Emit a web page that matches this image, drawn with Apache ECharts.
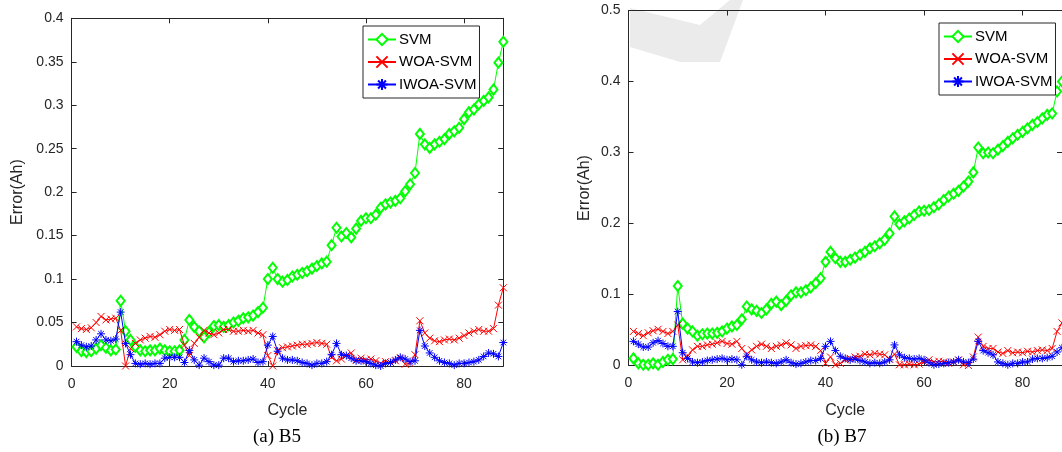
<!DOCTYPE html>
<html>
<head>
<meta charset="utf-8">
<script src="https://cdn.jsdelivr.net/npm/echarts@6/dist/echarts.min.js"></script>
<style>
  html, body { margin: 0; padding: 0; background: #fff; }
  #chart { width: 1062px; height: 452px; }
</style>
</head>
<body>
<div id="chart"></div>
<script>
// cycle index 1..88 shared by both panels
const cycles = Array.from({ length: 88 }, (_, i) => i + 1);
const seriesNames = ['SVM', 'WOA-SVM', 'IWOA-SVM'];

// (a) B5
const b5Svm = [
  0.022, 0.017, 0.016, 0.017, 0.020, 0.024, 0.021, 0.018, 0.019, 0.075,
  0.040, 0.030, 0.022, 0.018, 0.017, 0.018, 0.018, 0.020, 0.018, 0.017,
  0.017, 0.018, 0.030, 0.053, 0.045, 0.040, 0.033, 0.039, 0.046, 0.047,
  0.045, 0.047, 0.050, 0.052, 0.055, 0.056, 0.058, 0.062, 0.067, 0.100,
  0.113, 0.100, 0.097, 0.099, 0.103, 0.105, 0.107, 0.109, 0.112, 0.115,
  0.118, 0.120, 0.139, 0.159, 0.149, 0.153, 0.148, 0.158, 0.167, 0.170,
  0.170, 0.174, 0.182, 0.186, 0.188, 0.190, 0.193, 0.201, 0.209, 0.222,
  0.267, 0.255, 0.251, 0.255, 0.258, 0.261, 0.267, 0.270, 0.274, 0.284,
  0.292, 0.295, 0.301, 0.305, 0.309, 0.318, 0.349, 0.373,
];
const b5Woa = [
  0.045, 0.043, 0.042, 0.044, 0.050, 0.057, 0.053, 0.054, 0.055, 0.041,
  0.000, 0.020, 0.026, 0.030, 0.032, 0.034, 0.033, 0.036, 0.040, 0.042,
  0.041, 0.042, 0.024, 0.012, 0.026, 0.033, 0.041, 0.038, 0.036, 0.038,
  0.042, 0.042, 0.040, 0.040, 0.041, 0.040, 0.041, 0.038, 0.036, 0.012,
  0.000, 0.018, 0.021, 0.022, 0.023, 0.024, 0.025, 0.025, 0.026, 0.027,
  0.026, 0.025, 0.010, 0.006, 0.008, 0.012, 0.015, 0.007, 0.009, 0.007,
  0.008, 0.006, 0.003, 0.005, 0.004, 0.006, 0.009, 0.002, 0.003, 0.013,
  0.052, 0.038, 0.032, 0.029, 0.028, 0.030, 0.031, 0.030, 0.032, 0.035,
  0.038, 0.040, 0.042, 0.040, 0.040, 0.043, 0.070, 0.090,
];
const b5Iwoa = [
  0.028, 0.024, 0.022, 0.023, 0.030, 0.037, 0.030, 0.029, 0.031, 0.062,
  0.026, 0.013, 0.003, 0.002, 0.003, 0.002, 0.003, 0.003, 0.009, 0.010,
  0.010, 0.010, 0.004, 0.018, 0.007, 0.001, 0.009, 0.005, 0.001, 0.001,
  0.009, 0.009, 0.005, 0.006, 0.006, 0.007, 0.008, 0.004, 0.005, 0.024,
  0.034, 0.017, 0.009, 0.007, 0.007, 0.006, 0.004, 0.003, 0.001, 0.003,
  0.003, 0.005, 0.013, 0.026, 0.013, 0.012, 0.009, 0.006, 0.006, 0.005,
  0.003, 0.001, 0.000, 0.003, 0.004, 0.007, 0.010, 0.008, 0.005, 0.006,
  0.041, 0.023, 0.015, 0.010, 0.006, 0.004, 0.003, 0.001, 0.003, 0.003,
  0.004, 0.005, 0.007, 0.011, 0.015, 0.014, 0.011, 0.027,
];

// (b) B7
const b7Svm = [
  0.010, 0.003, 0.001, 0.001, 0.003, 0.001, 0.005, 0.008, 0.009, 0.112,
  0.059, 0.052, 0.048, 0.042, 0.044, 0.045, 0.045, 0.046, 0.048, 0.052,
  0.055, 0.057, 0.065, 0.083, 0.079, 0.077, 0.074, 0.079, 0.087, 0.090,
  0.085, 0.091, 0.099, 0.103, 0.103, 0.106, 0.110, 0.116, 0.123, 0.146,
  0.160, 0.151, 0.146, 0.146, 0.149, 0.152, 0.156, 0.160, 0.165, 0.168,
  0.172, 0.177, 0.186, 0.210, 0.199, 0.203, 0.207, 0.212, 0.217, 0.218,
  0.219, 0.223, 0.227, 0.233, 0.238, 0.242, 0.246, 0.252, 0.259, 0.272,
  0.307, 0.299, 0.300, 0.299, 0.304, 0.309, 0.315, 0.320, 0.325, 0.329,
  0.334, 0.339, 0.343, 0.348, 0.353, 0.355, 0.386, 0.400,
];
const b7Woa = [
  0.048, 0.045, 0.042, 0.046, 0.049, 0.051, 0.048, 0.045, 0.048, 0.057,
  0.008, 0.013, 0.022, 0.027, 0.027, 0.029, 0.030, 0.032, 0.034, 0.031,
  0.030, 0.034, 0.024, 0.016, 0.022, 0.027, 0.030, 0.027, 0.024, 0.027,
  0.029, 0.032, 0.029, 0.024, 0.027, 0.028, 0.029, 0.027, 0.021, 0.003,
  0.012, 0.001, 0.003, 0.008, 0.010, 0.012, 0.013, 0.016, 0.015, 0.017,
  0.016, 0.015, 0.009, 0.016, 0.001, 0.001, 0.002, 0.001, 0.002, 0.005,
  0.008, 0.005, 0.006, 0.005, 0.003, 0.005, 0.008, 0.001, 0.000, 0.012,
  0.040, 0.027, 0.024, 0.024, 0.019, 0.017, 0.021, 0.018, 0.019, 0.018,
  0.020, 0.019, 0.021, 0.022, 0.021, 0.024, 0.048, 0.060,
];
const b7Iwoa = [
  0.034, 0.030, 0.026, 0.026, 0.032, 0.035, 0.031, 0.027, 0.027, 0.076,
  0.018, 0.010, 0.005, 0.004, 0.005, 0.007, 0.008, 0.009, 0.010, 0.008,
  0.009, 0.008, 0.001, 0.013, 0.008, 0.005, 0.004, 0.005, 0.004, 0.003,
  0.005, 0.008, 0.004, 0.002, 0.003, 0.005, 0.007, 0.007, 0.010, 0.027,
  0.034, 0.021, 0.013, 0.010, 0.008, 0.009, 0.007, 0.005, 0.003, 0.004,
  0.003, 0.005, 0.008, 0.029, 0.015, 0.011, 0.010, 0.009, 0.010, 0.008,
  0.004, 0.001, 0.002, 0.003, 0.004, 0.005, 0.008, 0.005, 0.004, 0.009,
  0.034, 0.021, 0.018, 0.015, 0.005, 0.003, 0.001, 0.003, 0.003, 0.005,
  0.005, 0.009, 0.010, 0.010, 0.011, 0.013, 0.019, 0.025,
];

const AXIS_COLOR = '#262626';
const FONT = 'Liberation Sans';
const X_MARK = 'path://M0,0L10,10M10,0L0,10';
const STAR_MARK = 'path://M5,0L5,10M0,5L10,5M1.5,1.5L8.5,8.5M8.5,1.5L1.5,8.5';

const styles = [
  { color: '#00ff00', symbol: 'emptyDiamond', symbolSize: [8, 10] },
  { color: '#ff0000', symbol: X_MARK, symbolSize: 7 },
  { color: '#0000ff', symbol: STAR_MARK, symbolSize: 8 },
];

const panels = [
  {
    grid: { left: 71.6, top: 18.3, width: 431.7, height: 347.7 },
    yMax: 0.4, yStep: 0.05, yNameGap: 46,
    data: [b5Svm, b5Woa, b5Iwoa],
    legend: { left: 363, top: 26 },
    caption: '(a) B5', captionX: 277,
  },
  {
    grid: { left: 628.5, top: 10.5, width: 438.2, height: 355 },
    yMax: 0.5, yStep: 0.1, yNameGap: 36,
    data: [b7Svm, b7Woa, b7Iwoa],
    legend: { left: 939, top: 23 },
    caption: '(b) B7', captionX: 842,
  },
];

const labelStyle = { color: AXIS_COLOR, fontSize: 14, fontFamily: FONT };
const nameStyle = { color: AXIS_COLOR, fontSize: 16, fontFamily: FONT };

// fresh objects per axis, never shared between axes
function axisLine() {
  return { show: true, onZero: false, lineStyle: { color: AXIS_COLOR, width: 1 } };
}
function axisTick() {
  return { show: true, inside: true, length: 5, lineStyle: { color: AXIS_COLOR, width: 1 } };
}

const xAxis = [];
const yAxis = [];
const series = [];
const legend = [];
const graphic = [];

panels.forEach((p, gi) => {
  // bottom/left axes carry labels; top/right ones only close the box
  xAxis.push({
    type: 'value', gridIndex: gi, min: 0, max: 88, interval: 20,
    position: 'bottom',
    name: 'Cycle', nameLocation: 'middle', nameGap: 37, nameTextStyle: { ...nameStyle },
    axisLine: axisLine(), axisTick: axisTick(),
    axisLabel: { ...labelStyle, margin: 11, showMaxLabel: false },
    splitLine: { show: false },
  });
  xAxis.push({
    type: 'value', gridIndex: gi, min: 0, max: 88, interval: 20,
    position: 'top',
    axisLine: axisLine(), axisTick: axisTick(),
    axisLabel: { show: false },
    splitLine: { show: false },
  });
  yAxis.push({
    type: 'value', gridIndex: gi, min: 0, max: p.yMax, interval: p.yStep,
    position: 'left',
    name: 'Error(Ah)', nameLocation: 'middle', nameGap: p.yNameGap, nameRotate: 90,
    nameTextStyle: { ...nameStyle },
    axisLine: axisLine(), axisTick: axisTick(),
    axisLabel: { ...labelStyle, margin: 8 },
    splitLine: { show: false },
  });
  yAxis.push({
    type: 'value', gridIndex: gi, min: 0, max: p.yMax, interval: p.yStep,
    position: 'right',
    axisLine: axisLine(), axisTick: axisTick(),
    axisLabel: { show: false },
    splitLine: { show: false },
  });

  p.data.forEach((values, si) => {
    const s = styles[si];
    series.push({
      name: seriesNames[si],
      type: 'line',
      xAxisIndex: gi * 2,
      yAxisIndex: gi * 2,
      data: values.map((v, i) => [cycles[i], v]),
      symbol: s.symbol,
      symbolSize: s.symbolSize,
      color: s.color,
      lineStyle: { color: s.color, width: 1 },
      itemStyle: { color: s.color, borderColor: s.color, borderWidth: 1 },
      z: 2 + si,
    });
  });

  legend.push({
    data: seriesNames,
    orient: 'vertical',
    left: p.legend.left, top: p.legend.top,
    itemWidth: 28, itemHeight: 14, itemGap: 7.5,
    padding: [6, 3, 6, 4],
    backgroundColor: '#fff',
    borderColor: AXIS_COLOR, borderWidth: 1,
    textStyle: { color: '#000', fontSize: 15, fontFamily: FONT, padding: [0, 0, 0, -2] },
    selectedMode: false,
  });

  graphic.push({
    type: 'text',
    x: p.captionX, y: 428,
    style: {
      text: p.caption,
      fill: '#000',
      font: '19px "Liberation Serif"',
      textAlign: 'center',
    },
  });
});

// faint grey watermark mark at the top of panel (b)
graphic.push({
  type: 'polygon',
  silent: true,
  z: -10,
  shape: { points: [[630, 8], [630, 47], [680, 62], [720, 62], [743, 0], [730, 0], [700, 25]] },
  style: { fill: '#ebebeb' },
});

const chart = echarts.init(document.getElementById('chart'));
chart.setOption({
  animation: false,
  backgroundColor: '#fff',
  grid: panels.map((p) => ({ ...p.grid })),
  xAxis,
  yAxis,
  legend,
  series,
  graphic,
});
</script>
</body>
</html>
